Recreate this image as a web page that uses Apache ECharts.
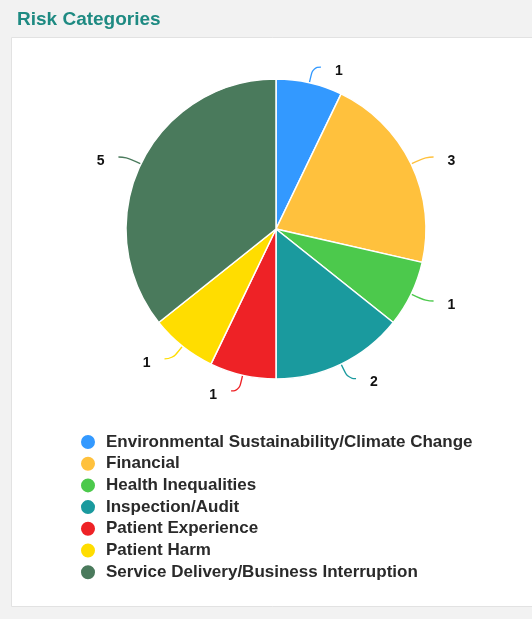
<!DOCTYPE html>
<html>
<head>
<meta charset="utf-8">
<title>Risk Categories</title>
<script src="https://cdn.jsdelivr.net/npm/echarts@6/dist/echarts.min.js"></script>
<style>
  html, body { margin: 0; padding: 0; background: #f2f2f2; }
  #chart { width: 532px; height: 619px; }
</style>
</head>
<body>
<div id="chart"></div>
<script>
// Risk register counts by category
const categories = [
  'Environmental Sustainability/Climate Change',
  'Financial',
  'Health Inequalities',
  'Inspection/Audit',
  'Patient Experience',
  'Patient Harm',
  'Service Delivery/Business Interruption'
];
const counts = [1, 3, 1, 2, 1, 1, 5];
const colors = ['#3399ff', '#ffc13d', '#4cc94c', '#1a9a9e', '#ee2226', '#ffdd00', '#4a7a5c'];

const chart = echarts.init(document.getElementById('chart'), null, { renderer: 'canvas' });

chart.setOption({
  animation: false,
  backgroundColor: '#f2f2f2',
  title: {
    text: 'Risk Categories',
    left: 12,
    top: 5,
    textStyle: {
      fontFamily: 'Liberation Sans, Arial, sans-serif',
      fontSize: 19,
      fontWeight: 'bold',
      color: '#1e8a82'
    }
  },
  graphic: [{
    type: 'rect',
    z: -10,
    shape: { x: 11.5, y: 37.5, width: 540, height: 569 },
    style: { fill: '#ffffff', stroke: '#e2e2e2', lineWidth: 1 }
  }],
  color: colors,
  legend: {
    orient: 'vertical',
    left: 74,
    top: 428,
    itemGap: 3.7,
    itemWidth: 16,
    itemHeight: 16,
    icon: 'circle',
    textStyle: {
      fontFamily: 'Liberation Sans, Arial, sans-serif',
      fontSize: 17,
      lineHeight: 17,
      fontWeight: 'bold',
      color: '#2a2a2a',
      padding: [0, 0, 0, 5]
    },
    data: categories
  },
  series: [{
    type: 'pie',
    center: [276, 229],
    radius: [0, 150],
    startAngle: 90,
    clockwise: true,
    itemStyle: { borderColor: '#ffffff', borderWidth: 1.5 },
    label: {
      show: true,
      formatter: '{v|{c}}',
      distanceToLabelLine: 14,
      rich: {
        v: {
          fontFamily: 'Liberation Sans, Arial, sans-serif',
          fontSize: 14,
          fontWeight: 'bold',
          color: '#111111',
          padding: [8, 0, 0, 0]
        }
      }
    },
    labelLine: { show: true, length: 16, length2: 8, smooth: 0.5, lineStyle: { width: 1.3 } },
    emphasis: { disabled: true },
    data: categories.map((name, i) => ({ name, value: counts[i] }))
  }]
});
</script>
</body>
</html>
